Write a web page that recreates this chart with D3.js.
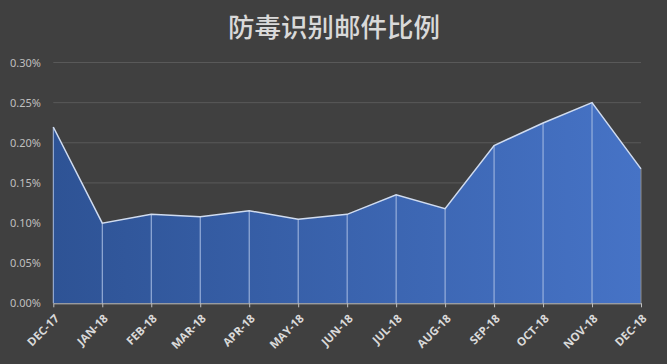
<!DOCTYPE html>
<html><head><meta charset="utf-8">
<script src="https://cdn.jsdelivr.net/npm/d3@7"></script>
<style>
html,body{margin:0;padding:0;background:#404040;}
svg{display:block;}
</style></head>
<body>
<svg id="c" width="667" height="364"></svg>
<script>
const title = "防毒识别邮件比例";
const categories = ["DEC-17","JAN-18","FEB-18","MAR-18","APR-18","MAY-18","JUN-18","JUL-18","AUG-18","SEP-18","OCT-18","NOV-18","DEC-18"];
const values = [0.2196,0.0998,0.1110,0.1079,0.1153,0.1046,0.1108,0.1352,0.1178,0.1966,0.2246,0.2500,0.1675];
const yTicks = [0,0.05,0.10,0.15,0.20,0.25,0.30];

const svg = d3.select("#c");
const W = 667, H = 364;
const x = d3.scalePoint().domain(categories).range([53.3, 641]);
const y = d3.scaleLinear().domain([0, 0.30]).range([303.3, 62.5]);

svg.append("rect").attr("width", W).attr("height", H).attr("fill", "#404040");

svg.append("text").attr("x", 334).attr("y", 37).attr("text-anchor", "middle")
  .attr("fill", "#d9d9d9").attr("font-family", "'Noto Sans CJK SC'").attr("font-size", 26.5)
  .attr("font-weight", 500).text(title);

// gridlines
svg.append("g").selectAll("line").data(yTicks.filter(d => d > 0)).join("line")
  .attr("x1", 53.3).attr("x2", 641).attr("y1", d => y(d)).attr("y2", d => y(d))
  .attr("stroke", "#595959").attr("stroke-width", 1);

// y labels
const yAxis = d3.axisLeft(y).tickValues(yTicks).tickFormat(d => d.toFixed(2) + "%").tickSize(0).tickPadding(0);
const gy = svg.append("g").attr("transform", "translate(41,0)").call(yAxis);
gy.select(".domain").remove();
gy.selectAll("text").attr("fill", "#bfbfbf").attr("font-family", "'Noto Sans', sans-serif").attr("font-size", 11);

// gradient
const defs = svg.append("defs");
const grad = defs.append("linearGradient").attr("id", "g1").attr("x1", "0%").attr("x2", "100%").attr("y1", "0%").attr("y2", "0%");
grad.append("stop").attr("offset", "0%").attr("stop-color", "#2e5395");
grad.append("stop").attr("offset", "100%").attr("stop-color", "#4673c6");

const data = categories.map((c, i) => ({c, v: values[i]}));
const area = d3.area().x(d => x(d.c)).y0(y(0)).y1(d => y(d.v));
svg.append("path").datum(data).attr("d", area).attr("fill", "url(#g1)");

// drop lines
svg.append("g").selectAll("line").data(data).join("line")
  .attr("x1", d => x(d.c)).attr("x2", d => x(d.c)).attr("y1", d => y(d.v)).attr("y2", y(0))
  .attr("stroke", (d, i) => i === data.length - 1 ? "#8c8c8c" : "#a8bde3").attr("stroke-width", 1);

// top line
const line = d3.line().x(d => x(d.c)).y(d => y(d.v));
svg.append("path").datum(data).attr("d", line).attr("fill", "none")
  .attr("stroke", "#d0dcf0").attr("stroke-width", 1.5);

// x axis
const xAxis = d3.axisBottom(x).tickSize(4).tickSizeOuter(0);
const gx = svg.append("g").attr("transform", `translate(0,${y(0)})`).call(xAxis);
gx.select(".domain").attr("stroke", "#bfbfbf");
gx.selectAll(".tick line").attr("stroke", "#bfbfbf");
gx.selectAll("text").attr("fill", "#d9d9d9").attr("font-family", "'Open Sans', sans-serif")
  .attr("font-size", 11.5).attr("font-weight", "bold")
  .attr("text-anchor", "end").attr("y", 0).attr("dy", 0)
  .attr("transform", "translate(6,16) rotate(-45)");
</script>
</body></html>
